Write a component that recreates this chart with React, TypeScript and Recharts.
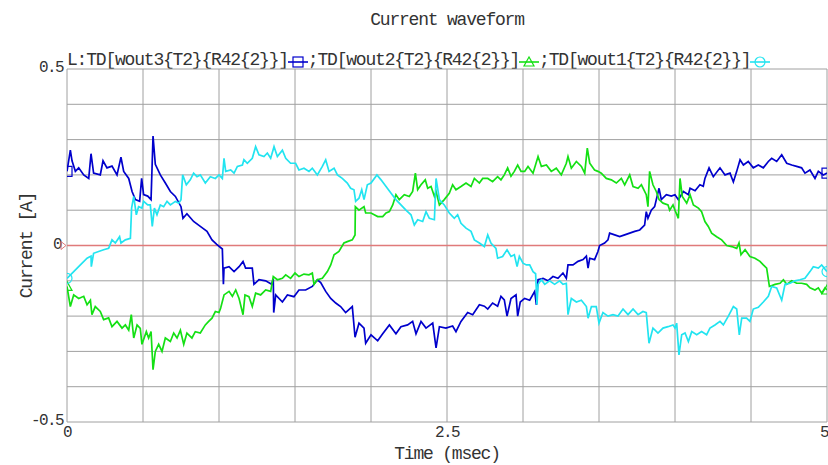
import { LineChart, Line, XAxis, YAxis, CartesianGrid, ReferenceLine } from 'recharts'

// [time (msec), current (A)]
const wout3: [number, number][] = [
  [0, 0.21], [0.022, 0.27], [0.033, 0.24], [0.055, 0.21], [0.077, 0.22], [0.11, 0.2], [0.143, 0.19], [0.158, 0.26],
  [0.175, 0.205], [0.219, 0.2], [0.237, 0.24], [0.263, 0.22], [0.296, 0.225], [0.329, 0.2], [0.355, 0.25], [0.373, 0.21],
  [0.406, 0.19], [0.428, 0.153], [0.45, 0.13], [0.478, 0.125], [0.491, 0.19], [0.504, 0.144], [0.531, 0.14], [0.553, 0.13],
  [0.566, 0.31], [0.581, 0.23], [0.614, 0.2], [0.647, 0.177], [0.68, 0.153], [0.713, 0.139], [0.75, 0.11], [0.763, 0.077],
  [0.789, 0.09], [0.833, 0.068], [0.877, 0.054], [0.921, 0.04], [0.954, 0.016], [0.985, 0.003], [1.022, -0.01], [1.029, -0.11],
  [1.033, -0.064], [1.066, -0.06], [1.099, -0.074], [1.132, -0.06], [1.158, -0.045], [1.175, -0.064], [1.219, -0.064], [1.23, -0.11],
  [1.263, -0.097], [1.307, -0.1], [1.346, -0.11], [1.357, -0.095], [1.36, -0.19], [1.373, -0.14], [1.417, -0.16], [1.45, -0.14],
  [1.493, -0.145], [1.526, -0.126], [1.57, -0.126], [1.614, -0.116], [1.647, -0.097], [1.669, -0.105], [1.702, -0.13], [1.735, -0.15],
  [1.768, -0.163], [1.8, -0.173], [1.833, -0.19], [1.877, -0.173], [1.895, -0.26], [1.921, -0.22], [1.954, -0.234], [1.965, -0.277],
  [2.0, -0.253], [2.044, -0.27], [2.077, -0.25], [2.121, -0.225], [2.164, -0.25], [2.197, -0.23], [2.241, -0.225], [2.274, -0.215],
  [2.296, -0.25], [2.329, -0.215], [2.362, -0.234], [2.406, -0.22], [2.428, -0.29], [2.45, -0.23], [2.493, -0.234], [2.537, -0.228],
  [2.559, -0.244], [2.592, -0.215], [2.636, -0.19], [2.669, -0.196], [2.713, -0.168], [2.746, -0.172], [2.768, -0.18], [2.8, -0.163],
  [2.833, -0.172], [2.855, -0.144], [2.877, -0.154], [2.895, -0.2], [2.921, -0.15], [2.954, -0.14], [2.965, -0.2], [2.982, -0.16],
  [3.011, -0.15], [3.044, -0.155], [3.077, -0.13], [3.088, -0.168], [3.099, -0.097], [3.132, -0.093], [3.164, -0.1], [3.197, -0.088],
  [3.23, -0.093], [3.263, -0.078], [3.285, -0.093], [3.296, -0.055], [3.329, -0.055], [3.362, -0.045], [3.395, -0.04], [3.417, -0.03],
  [3.428, -0.064], [3.439, -0.036], [3.471, -0.04], [3.493, -0.017], [3.504, 0.0], [3.537, 0.007], [3.559, 0.016], [3.57, 0.035],
  [3.603, 0.03], [3.636, 0.025], [3.669, 0.03], [3.702, 0.035], [3.735, 0.04], [3.768, 0.044], [3.8, 0.058], [3.811, 0.096],
  [3.822, 0.077], [3.844, 0.1], [3.866, 0.11], [3.895, 0.162], [3.91, 0.13], [3.943, 0.144], [3.976, 0.14], [4.0, 0.144],
  [4.022, 0.13], [4.055, 0.153], [4.088, 0.144], [4.099, 0.162], [4.132, 0.155], [4.164, 0.172], [4.186, 0.168], [4.197, 0.19],
  [4.224, 0.22], [4.252, 0.195], [4.296, 0.22], [4.329, 0.2], [4.362, 0.205], [4.384, 0.18], [4.406, 0.21], [4.428, 0.243],
  [4.45, 0.228], [4.482, 0.238], [4.515, 0.22], [4.548, 0.228], [4.581, 0.22], [4.614, 0.238], [4.636, 0.247], [4.669, 0.238],
  [4.702, 0.257], [4.735, 0.233], [4.768, 0.228], [4.8, 0.224], [4.833, 0.22], [4.855, 0.205], [4.888, 0.214], [4.921, 0.19],
  [4.943, 0.21], [4.976, 0.2], [5.0, 0.205],
]

const wout2: [number, number][] = [
  [0, -0.116], [0.022, -0.173], [0.044, -0.14], [0.077, -0.15], [0.11, -0.144], [0.132, -0.168], [0.154, -0.155], [0.164, -0.196],
  [0.186, -0.173], [0.219, -0.187], [0.241, -0.21], [0.274, -0.205], [0.296, -0.23], [0.329, -0.215], [0.362, -0.234], [0.384, -0.225],
  [0.406, -0.24], [0.423, -0.196], [0.439, -0.262], [0.461, -0.225], [0.482, -0.235], [0.493, -0.28], [0.522, -0.244], [0.537, -0.262],
  [0.553, -0.244], [0.566, -0.352], [0.581, -0.3], [0.603, -0.28], [0.625, -0.3], [0.647, -0.262], [0.68, -0.272], [0.702, -0.248],
  [0.724, -0.262], [0.746, -0.24], [0.768, -0.28], [0.789, -0.248], [0.822, -0.262], [0.844, -0.244], [0.877, -0.248], [0.91, -0.225],
  [0.932, -0.215], [0.954, -0.206], [0.976, -0.187], [1.0, -0.19], [1.011, -0.177], [1.033, -0.14], [1.066, -0.13], [1.088, -0.144],
  [1.11, -0.126], [1.132, -0.15], [1.158, -0.196], [1.171, -0.14], [1.197, -0.145], [1.219, -0.173], [1.241, -0.135], [1.274, -0.14],
  [1.307, -0.126], [1.34, -0.13], [1.357, -0.088], [1.384, -0.097], [1.417, -0.093], [1.439, -0.083], [1.471, -0.093], [1.5, -0.078],
  [1.526, -0.088], [1.559, -0.081], [1.592, -0.083], [1.614, -0.078], [1.625, -0.11], [1.647, -0.097], [1.68, -0.093], [1.713, -0.074],
  [1.735, -0.055], [1.757, -0.026], [1.789, -0.017], [1.822, 0.007], [1.844, 0.011], [1.877, 0.016], [1.895, 0.03], [1.897, 0.11],
  [1.921, 0.1], [1.954, 0.11], [1.965, 0.092], [2.0, 0.092], [2.044, 0.082], [2.077, 0.082], [2.099, 0.092], [2.121, 0.096],
  [2.143, 0.115], [2.164, 0.144], [2.186, 0.13], [2.219, 0.144], [2.252, 0.139], [2.274, 0.153], [2.292, 0.205], [2.307, 0.158],
  [2.329, 0.172], [2.357, 0.186], [2.373, 0.162], [2.395, 0.167], [2.417, 0.139], [2.428, 0.153], [2.45, 0.115], [2.482, 0.13],
  [2.515, 0.148], [2.537, 0.172], [2.559, 0.158], [2.592, 0.167], [2.625, 0.177], [2.658, 0.167], [2.68, 0.19], [2.713, 0.177],
  [2.735, 0.19], [2.768, 0.19], [2.8, 0.181], [2.833, 0.195], [2.855, 0.186], [2.877, 0.2], [2.899, 0.22], [2.921, 0.196],
  [2.943, 0.21], [2.965, 0.228], [2.987, 0.21], [3.011, 0.21], [3.033, 0.224], [3.066, 0.205], [3.099, 0.252], [3.121, 0.224],
  [3.154, 0.228], [3.186, 0.21], [3.219, 0.219], [3.252, 0.2], [3.285, 0.233], [3.296, 0.252], [3.318, 0.219], [3.351, 0.238],
  [3.384, 0.224], [3.406, 0.205], [3.423, 0.276], [3.439, 0.233], [3.471, 0.214], [3.493, 0.21], [3.515, 0.205], [3.548, 0.19],
  [3.581, 0.186], [3.614, 0.177], [3.647, 0.19], [3.669, 0.172], [3.702, 0.2], [3.724, 0.167], [3.757, 0.162], [3.779, 0.172],
  [3.811, 0.144], [3.822, 0.11], [3.833, 0.21], [3.855, 0.172], [3.877, 0.153], [3.895, 0.13], [3.921, 0.12], [3.954, 0.115],
  [3.965, 0.1], [3.987, 0.115], [4.0, 0.1], [4.022, 0.077], [4.033, 0.19], [4.048, 0.139], [4.077, 0.12], [4.099, 0.144],
  [4.121, 0.115], [4.154, 0.106], [4.175, 0.096], [4.197, 0.068], [4.219, 0.054], [4.241, 0.035], [4.274, 0.025], [4.307, 0.016],
  [4.34, 0.0], [4.373, -0.003], [4.406, -0.008], [4.421, 0.007], [4.434, -0.026], [4.461, -0.012], [4.493, -0.031], [4.526, -0.036],
  [4.559, -0.045], [4.581, -0.055], [4.603, -0.064], [4.621, -0.116], [4.658, -0.11], [4.691, -0.107], [4.713, -0.097], [4.735, -0.11],
  [4.768, -0.1], [4.8, -0.107], [4.833, -0.107], [4.866, -0.11], [4.888, -0.12], [4.921, -0.126], [4.943, -0.12], [4.965, -0.135],
  [4.987, -0.12], [5.0, -0.126],
]

const wout1: [number, number][] = [
  [0, -0.093], [0.044, -0.074], [0.088, -0.055], [0.132, -0.036], [0.158, -0.03], [0.16, -0.06], [0.175, -0.022], [0.208, -0.017],
  [0.241, -0.012], [0.274, -0.008], [0.296, 0.016], [0.318, 0.007], [0.346, 0.025], [0.355, 0.007], [0.384, 0.016], [0.417, 0.02],
  [0.425, 0.106], [0.439, 0.139], [0.456, 0.087], [0.471, 0.11], [0.493, 0.106], [0.504, 0.125], [0.531, 0.115], [0.548, 0.115],
  [0.561, 0.054], [0.575, 0.106], [0.592, 0.087], [0.614, 0.115], [0.636, 0.11], [0.658, 0.125], [0.68, 0.115], [0.713, 0.125],
  [0.735, 0.12], [0.75, 0.13], [0.761, 0.2], [0.785, 0.172], [0.811, 0.186], [0.833, 0.205], [0.855, 0.195], [0.877, 0.2],
  [0.91, 0.177], [0.943, 0.195], [0.976, 0.19], [1.0, 0.2], [1.022, 0.19], [1.033, 0.247], [1.044, 0.21], [1.077, 0.214],
  [1.099, 0.205], [1.121, 0.224], [1.154, 0.228], [1.164, 0.243], [1.186, 0.233], [1.219, 0.247], [1.241, 0.28], [1.263, 0.257],
  [1.296, 0.252], [1.318, 0.262], [1.34, 0.247], [1.362, 0.28], [1.384, 0.252], [1.417, 0.27], [1.439, 0.247], [1.471, 0.233],
  [1.504, 0.233], [1.526, 0.214], [1.559, 0.219], [1.592, 0.21], [1.614, 0.219], [1.647, 0.2], [1.68, 0.224], [1.702, 0.243],
  [1.724, 0.21], [1.757, 0.219], [1.779, 0.2], [1.811, 0.19], [1.844, 0.177], [1.866, 0.162], [1.888, 0.158], [1.899, 0.125],
  [1.921, 0.134], [1.939, 0.158], [1.954, 0.13], [1.976, 0.172], [2.0, 0.177], [2.039, 0.2], [2.066, 0.186], [2.099, 0.167],
  [2.132, 0.148], [2.164, 0.13], [2.197, 0.115], [2.23, 0.1], [2.263, 0.087], [2.285, 0.058], [2.307, 0.073], [2.34, 0.068],
  [2.362, 0.096], [2.384, 0.077], [2.417, 0.073], [2.428, 0.19], [2.45, 0.13], [2.482, 0.115], [2.515, 0.092], [2.548, 0.077],
  [2.57, 0.087], [2.592, 0.063], [2.625, 0.049], [2.658, 0.04], [2.68, 0.016], [2.713, 0.007], [2.746, -0.003], [2.768, 0.03],
  [2.789, 0.007], [2.822, -0.008], [2.833, -0.036], [2.866, -0.031], [2.895, -0.012], [2.921, -0.031], [2.943, -0.026], [2.961, -0.06],
  [2.976, -0.031], [3.0, -0.05], [3.022, -0.055], [3.044, -0.055], [3.066, -0.074], [3.083, -0.08], [3.092, -0.168], [3.099, -0.11],
  [3.121, -0.097], [3.143, -0.11], [3.175, -0.1], [3.208, -0.11], [3.241, -0.1], [3.263, -0.11], [3.285, -0.107], [3.296, -0.196],
  [3.318, -0.15], [3.351, -0.16], [3.384, -0.155], [3.417, -0.173], [3.428, -0.206], [3.45, -0.173], [3.482, -0.173], [3.5, -0.22],
  [3.526, -0.19], [3.559, -0.2], [3.592, -0.196], [3.625, -0.2], [3.658, -0.18], [3.691, -0.196], [3.724, -0.18], [3.757, -0.196],
  [3.789, -0.187], [3.811, -0.19], [3.829, -0.277], [3.855, -0.234], [3.888, -0.248], [3.921, -0.234], [3.954, -0.23], [3.987, -0.225],
  [4.0, -0.234], [4.011, -0.22], [4.026, -0.31], [4.044, -0.253], [4.066, -0.248], [4.088, -0.272], [4.11, -0.244], [4.143, -0.253],
  [4.175, -0.244], [4.208, -0.253], [4.23, -0.234], [4.263, -0.225], [4.296, -0.215], [4.318, -0.225], [4.351, -0.2], [4.384, -0.173],
  [4.406, -0.18], [4.423, -0.253], [4.439, -0.206], [4.471, -0.206], [4.493, -0.215], [4.515, -0.18], [4.548, -0.175], [4.581, -0.16],
  [4.614, -0.144], [4.636, -0.116], [4.669, -0.12], [4.702, -0.155], [4.724, -0.11], [4.757, -0.107], [4.789, -0.1], [4.822, -0.097],
  [4.855, -0.093], [4.888, -0.074], [4.91, -0.06], [4.943, -0.064], [4.965, -0.055], [5.0, -0.074],
]

const xGridTicks = [0, 0.5, 1, 1.5, 2, 2.5, 3, 3.5, 4, 4.5, 5]
const xTickLabels = [0, 2.5, 5]
const yGridTicks = [-0.5, -0.4, -0.3, -0.2, -0.1, 0, 0.1, 0.2, 0.3, 0.4, 0.5]
const yTickLabels = [-0.5, 0, 0.5]

const FONT = '"Liberation Mono", "DejaVu Sans Mono", monospace'
const TEXT = '#333'
const GRID = '#a0a0a0'

type MarkerKind = 'square' | 'triangle' | 'circle'

const series: { name: string; rows: [number, number][]; color: string; marker: MarkerKind }[] = [
  { name: 'L:TD[wout3{T2}{R42{2}}]', rows: wout3, color: '#0000cc', marker: 'square' },
  { name: ';TD[wout2{T2}{R42{2}}]', rows: wout2, color: '#14e014', marker: 'triangle' },
  { name: ';TD[wout1{T2}{R42{2}}]', rows: wout1, color: '#22e4f0', marker: 'circle' },
]

function markerShape(kind: MarkerKind, x: number, y: number, color: string) {
  if (kind === 'square') {
    return <rect x={x - 5} y={y - 5} width={10} height={10} fill="none" stroke={color} strokeWidth={1.2} />
  }
  if (kind === 'triangle') {
    return <polygon points={`${x},${y - 5} ${x - 5},${y + 4} ${x + 5},${y + 4}`} fill="none" stroke={color} strokeWidth={1.2} />
  }
  return <circle cx={x} cy={y} r={5} fill="none" stroke={color} strokeWidth={1.2} />
}

// markers only on the first and last sample, like the simulator output
const endDots = (kind: MarkerKind, color: string, count: number) => (props: any) => {
  const { cx, cy, index } = props
  if (index !== 0 && index !== count - 1) return <g key={`dot-${index}`} />
  return <g key={`dot-${index}`}>{markerShape(kind, cx, cy, color)}</g>
}

const XTick = (props: any) => {
  const { x, y, payload } = props
  if (!xTickLabels.includes(payload.value)) return <g />
  return (
    <text x={x} y={y + 15} textAnchor="middle" fill={TEXT} fontFamily={FONT} fontSize={16} letterSpacing={-1.6}>
      {String(payload.value)}
    </text>
  )
}

const YTick = (props: any) => {
  const { x, y, payload } = props
  if (!yTickLabels.includes(payload.value)) return <g />
  const isZero = payload.value === 0
  return (
    <g>
      <text x={isZero ? x - 6 : x - 4} y={y + 3} textAnchor="end" fill={TEXT} fontFamily={FONT} fontSize={16} letterSpacing={-1.6}>
        {String(payload.value)}
      </text>
      {isZero && (
        <polygon points={`${x - 6},${y - 4} ${x - 1},${y} ${x - 6},${y + 4}`} fill="none" stroke="#e07a7a" strokeWidth={1} />
      )}
    </g>
  )
}

const YLabel = (props: any) => {
  const { viewBox } = props
  const cx = viewBox.x + 27
  const cy = viewBox.y + viewBox.height / 2
  return (
    <text x={cx} y={cy} transform={`rotate(-90 ${cx} ${cy})`} textAnchor="middle" dominantBaseline="central"
      fill={TEXT} fontFamily={FONT} fontSize={18} letterSpacing={-1.2}>
      Current [A]
    </text>
  )
}

const XLabel = (props: any) => {
  const { viewBox } = props
  return (
    <text x={viewBox.x + viewBox.width / 2} y={viewBox.y + 37} textAnchor="middle"
      fill={TEXT} fontFamily={FONT} fontSize={18} letterSpacing={-1.2}>
      Time (msec)
    </text>
  )
}

function App() {
  return (
    <div style={{ position: 'absolute', left: 0, top: 0, width: 828, height: 465, background: '#fff', fontFamily: FONT, color: TEXT }}>
      <div style={{ position: 'absolute', left: 447, top: 11, transform: 'translateX(-50%)', fontSize: 18, lineHeight: '18px', letterSpacing: -1.2, whiteSpace: 'nowrap' }}>
        Current waveform
      </div>

      <div style={{ position: 'absolute', left: 67, top: 51, display: 'flex', fontSize: 18, lineHeight: '18px', letterSpacing: -1.2, whiteSpace: 'nowrap' }}>
        {series.map((s) => (
          <span key={s.name} style={{ display: 'flex' }}>
            <span>{s.name}</span>
            <svg width={20} height={18} style={{ display: 'block' }}>
              <line x1={0} y1={11} x2={20} y2={11} stroke={s.color} strokeWidth={1.6} />
              {markerShape(s.marker, 10, 11, s.color)}
            </svg>
          </span>
        ))}
      </div>

      <LineChart width={828} height={465} margin={{ top: 69, right: 1, bottom: 0, left: 0 }}>
        <CartesianGrid stroke={GRID} strokeWidth={1} />
        <XAxis
          type="number"
          dataKey="t"
          domain={[0, 5]}
          ticks={xGridTicks}
          allowDataOverflow
          axisLine={false}
          tickLine={false}
          tickSize={0}
          tickMargin={0}
          height={43}
          tick={XTick}
          label={<XLabel />}
        />
        <YAxis
          type="number"
          domain={[-0.5, 0.5]}
          ticks={yGridTicks}
          allowDataOverflow
          axisLine={false}
          tickLine={false}
          tickSize={0}
          tickMargin={0}
          width={67}
          tick={YTick}
          label={<YLabel />}
        />
        <ReferenceLine y={0} stroke="#e07a7a" strokeWidth={1.5} />
        {series.map((s) => (
          <Line
            key={s.name}
            data={s.rows.map(([t, v]) => ({ t, v }))}
            dataKey="v"
            type="linear"
            stroke={s.color}
            strokeWidth={1.7}
            dot={endDots(s.marker, s.color, s.rows.length)}
            activeDot={false}
            isAnimationActive={false}
          />
        ))}
      </LineChart>
    </div>
  )
}

export default App
